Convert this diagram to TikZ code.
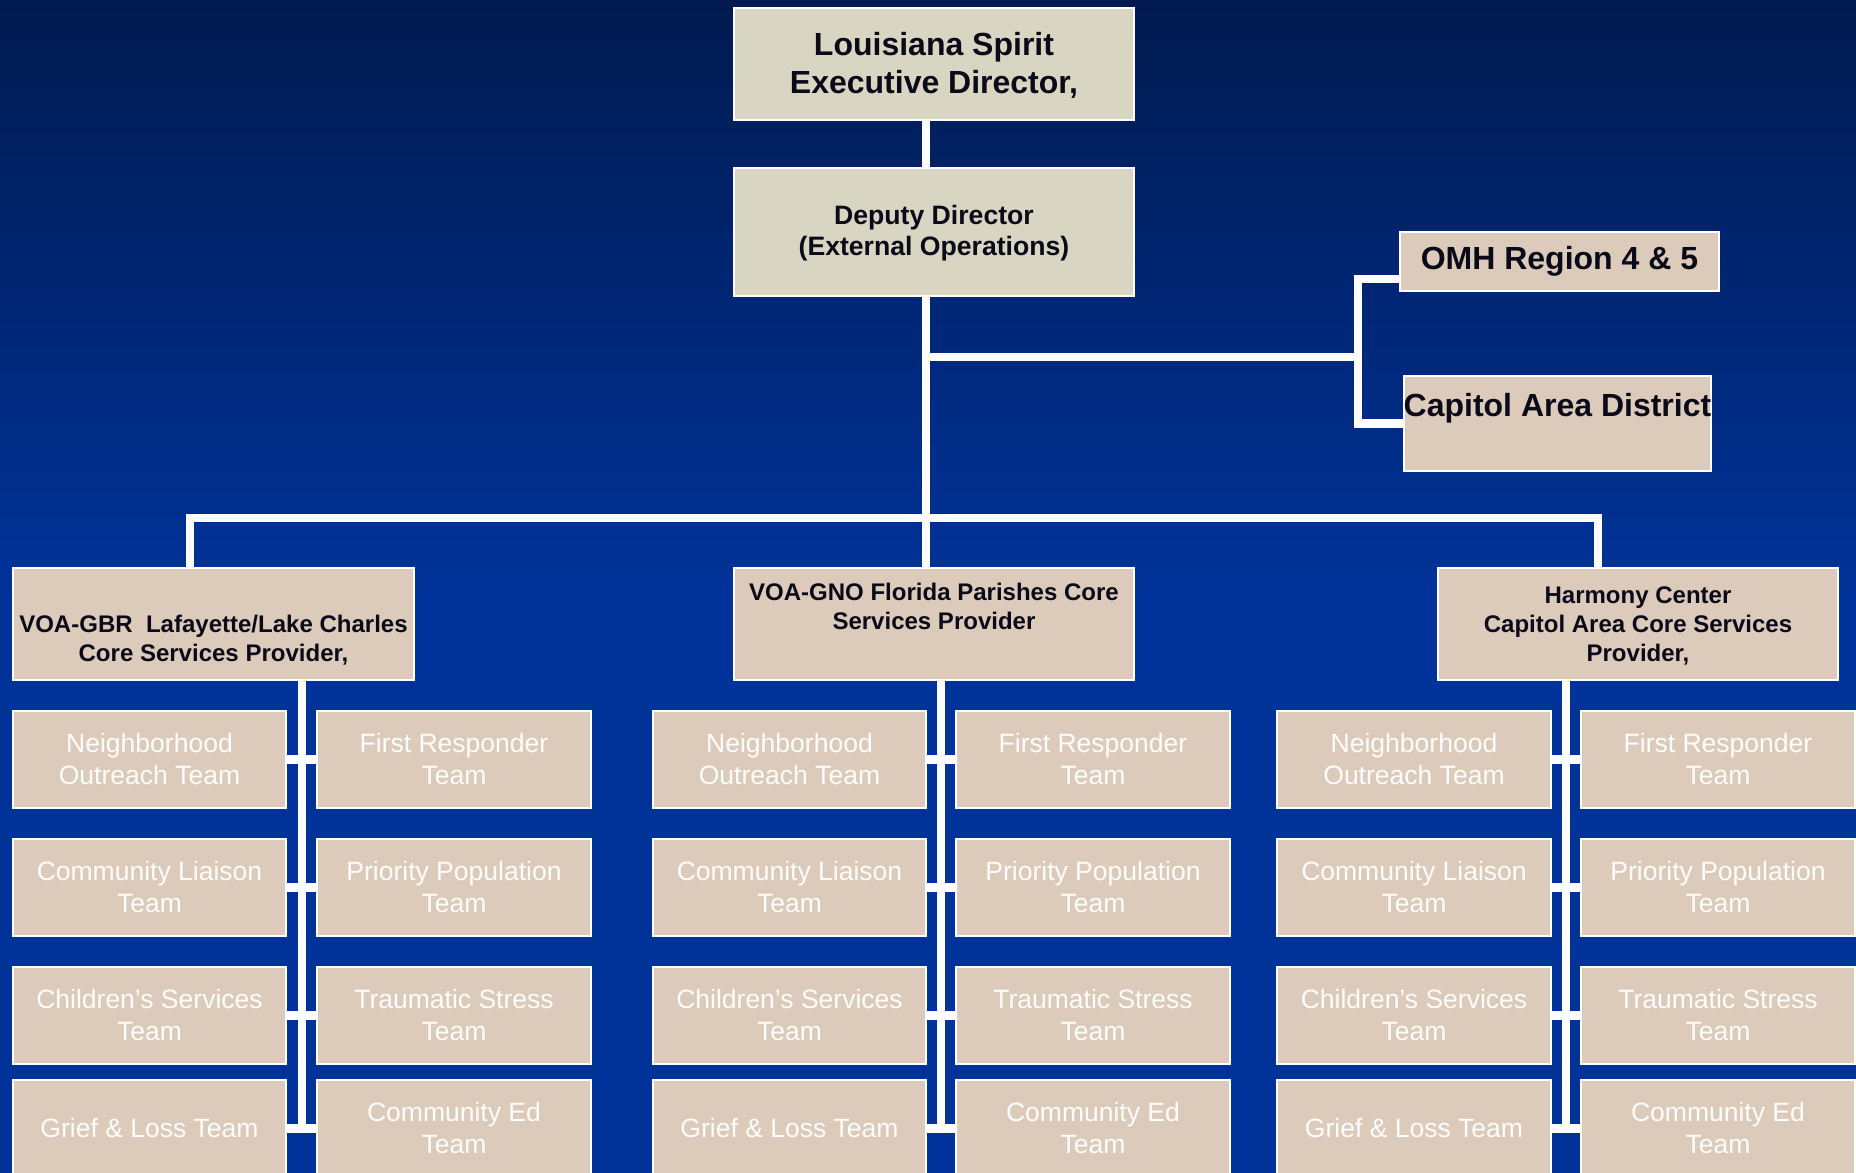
\documentclass[tikz,border=0pt]{standalone}
\usepackage{fontspec}
\setmainfont{Liberation Sans}
\usetikzlibrary{calc}
\definecolor{bgtop}{HTML}{001A4F}
\definecolor{bgblue}{HTML}{00339A}
\definecolor{headfill}{HTML}{D9D5C3}
\definecolor{boxfill}{HTML}{DCCBBA}
\definecolor{inkdark}{HTML}{0A0A18}
\tikzset{
  box/.style={draw=white, line width=0.6pt, inner sep=0pt, align=center},
  chief/.style={box, fill=headfill, text=inkdark, minimum width=4cm},
  district/.style={box, fill=boxfill, text=inkdark, font=\fontsize{9.1}{10.8}\selectfont\bfseries},
  provider/.style={box, fill=boxfill, text=inkdark, minimum width=4cm, minimum height=1.12cm, font=\fontsize{6.83}{8.25}\selectfont\bfseries},
  team/.style={box, fill=boxfill, text=white!96!boxfill, minimum width=2.73cm, minimum height=0.97cm, font=\fontsize{7.54}{9.1}\selectfont},
  link/.style={draw=white, line width=0.08cm},
}
\begin{document}
\begin{tikzpicture}[x=0.01cm, y=-0.01cm]
            \useasboundingbox (0,0) rectangle (1856,1173);
            \clip (0,0) rectangle (1856,1173);
            \shade[top color=bgtop, bottom color=bgblue] (0,0) rectangle (1856,600);
            \fill[bgblue] (0,599) rectangle (1856,1173);

            \node[chief, minimum height=1.12cm, font=\fontsize{9.1}{10.8}\selectfont\bfseries] (exec) at (934,64) {\strut Louisiana Spirit\\Executive Director,};
            \node[chief, minimum height=1.28cm, font=\fontsize{7.57}{8.8}\selectfont\bfseries] (deputy) at (934,232) {\strut Deputy Director\\(External Operations)};
            \node[district, minimum width=3.19cm, minimum height=0.59cm] (omh) at (1559.5,261.5) {OMH Region 4 \& 5};
            \node[district, minimum width=3.05cm, minimum height=0.95cm] (cad) at (1557.5,423.5) {Capitol Area District\\\mbox{}};

            \node[provider] (gbr) at (213.5,624) {\strut\\VOA-GBR\ \ Lafayette/Lake Charles\\Core Services Provider,};
            \node[provider] (gno) at (934,624) {\strut VOA-GNO Florida Parishes Core\\Services Provider\\\strut};
            \node[provider] (hc) at (1638,624) {\strut Harmony Center\\Capitol Area Core Services\\Provider,};

            \node[team] (gbr-nbr) at (149.5,759.5) {Neighborhood\\Outreach Team};
            \node[team] (gbr-first) at (454,759.5) {First Responder\\Team};
            \node[team] (gbr-liaison) at (149.5,887.5) {Community Liaison\\Team};
            \node[team] (gbr-prio) at (454,887.5) {Priority Population\\Team};
            \node[team] (gbr-child) at (149.5,1015.5) {Children’s Services\\Team};
            \node[team] (gbr-stress) at (454,1015.5) {Traumatic Stress\\Team};
            \node[team] (gbr-grief) at (149.5,1128.5) {Grief \& Loss Team};
            \node[team] (gbr-ed) at (454,1128.5) {Community Ed\\Team};

            \node[team] (gno-nbr) at (789.5,759.5) {Neighborhood\\Outreach Team};
            \node[team] (gno-first) at (1093,759.5) {First Responder\\Team};
            \node[team] (gno-liaison) at (789.5,887.5) {Community Liaison\\Team};
            \node[team] (gno-prio) at (1093,887.5) {Priority Population\\Team};
            \node[team] (gno-child) at (789.5,1015.5) {Children’s Services\\Team};
            \node[team] (gno-stress) at (1093,1015.5) {Traumatic Stress\\Team};
            \node[team] (gno-grief) at (789.5,1128.5) {Grief \& Loss Team};
            \node[team] (gno-ed) at (1093,1128.5) {Community Ed\\Team};

            \node[team] (hc-nbr) at (1414,759.5) {Neighborhood\\Outreach Team};
            \node[team] (hc-first) at (1718,759.5) {First Responder\\Team};
            \node[team] (hc-liaison) at (1414,887.5) {Community Liaison\\Team};
            \node[team] (hc-prio) at (1718,887.5) {Priority Population\\Team};
            \node[team] (hc-child) at (1414,1015.5) {Children’s Services\\Team};
            \node[team] (hc-stress) at (1718,1015.5) {Traumatic Stress\\Team};
            \node[team] (hc-grief) at (1414,1128.5) {Grief \& Loss Team};
            \node[team] (hc-ed) at (1718,1128.5) {Community Ed\\Team};

            \coordinate (spine) at (926,0);
            \coordinate (brk) at (1358,357);
            \coordinate (busL) at (190,518);
            \coordinate (busR) at (1598,518);

            \draw[link] (exec.south -| spine) -- (deputy.north -| spine);
            \draw[link] (deputy.south -| spine) -- (gno.north -| spine);
            \draw[link] (brk -| spine) -- (brk);
            \draw[link] ([yshift=-0.175cm]omh.west) -| (brk) |- (cad.west);
            \draw[link] (gbr.north -| busL) -- (busL) -- (busR) -- (hc.north -| busR);

            \coordinate (gbr-t) at ($(gbr-grief.east)!0.5!(gbr-ed.west)$);
            \coordinate (gno-t) at ($(gno-grief.east)!0.5!(gno-ed.west)$);
            \coordinate (hc-t) at ($(hc-grief.east)!0.5!(hc-ed.west)$);
            \draw[link] (gbr.south -| gbr-t) -- (gbr-t);
            \draw[link] (gno.south -| gno-t) -- (gno-t);
            \draw[link] (hc.south -| hc-t) -- (hc-t);

            \draw[link] (gbr-nbr) -- (gbr-first);
            \draw[link] (gbr-liaison) -- (gbr-prio);
            \draw[link] (gbr-child) -- (gbr-stress);
            \draw[link] (gbr-grief) -- (gbr-ed);
            \draw[link] (gno-nbr) -- (gno-first);
            \draw[link] (gno-liaison) -- (gno-prio);
            \draw[link] (gno-child) -- (gno-stress);
            \draw[link] (gno-grief) -- (gno-ed);
            \draw[link] (hc-nbr) -- (hc-first);
            \draw[link] (hc-liaison) -- (hc-prio);
            \draw[link] (hc-child) -- (hc-stress);
            \draw[link] (hc-grief) -- (hc-ed);
        \end{tikzpicture}
\end{document}
